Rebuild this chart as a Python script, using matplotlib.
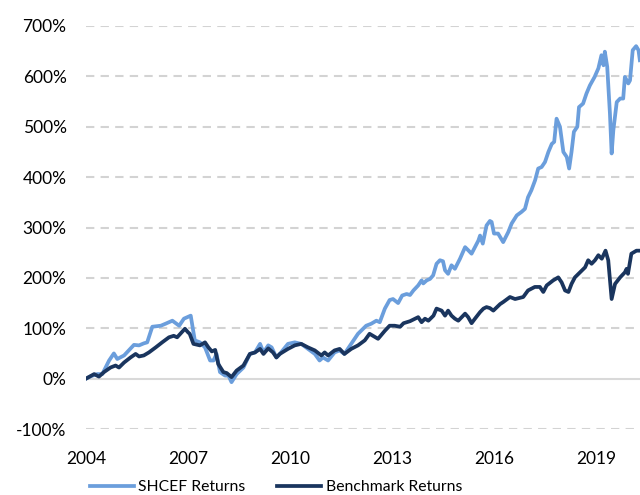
import matplotlib.pyplot as plt
from matplotlib.ticker import FuncFormatter

plt.rcParams['font.family'] = ['Lato', 'DejaVu Sans']

# values (cumulative return, %)
shcef_years = [2004.0, 2004.15, 2004.33, 2004.48, 2004.68, 2004.82, 2004.92, 2005.12, 2005.41, 2005.56,
               2005.7, 2005.8, 2005.95, 2006.2, 2006.34, 2006.54, 2006.74, 2006.88, 2007.08, 2007.2,
               2007.35, 2007.5, 2007.65, 2007.75, 2007.84, 2007.94, 2008.09, 2008.19, 2008.28, 2008.43,
               2008.63, 2008.82, 2008.97, 2009.12, 2009.22, 2009.36, 2009.46, 2009.6, 2009.7, 2009.94,
               2010.14, 2010.33, 2010.53, 2010.73, 2010.87, 2010.97, 2011.12, 2011.31, 2011.46, 2011.6,
               2011.8, 2012.0, 2012.24, 2012.39, 2012.54, 2012.64, 2012.79, 2012.93, 2013.03, 2013.18,
               2013.3, 2013.43, 2013.53, 2013.63, 2013.77, 2013.87, 2013.92, 2014.02, 2014.12, 2014.21,
               2014.31, 2014.41, 2014.5, 2014.56, 2014.65, 2014.75, 2014.85, 2015.0, 2015.15, 2015.24,
               2015.34, 2015.44, 2015.54, 2015.59, 2015.67, 2015.78, 2015.88, 2015.93, 2016.0, 2016.12,
               2016.27, 2016.42, 2016.52, 2016.67, 2016.81, 2016.91, 2017.0, 2017.1, 2017.21, 2017.3,
               2017.4, 2017.5, 2017.6, 2017.7, 2017.77, 2017.84, 2017.94, 2018.04, 2018.14, 2018.21,
               2018.28, 2018.35, 2018.45, 2018.5, 2018.62, 2018.72, 2018.82, 2018.96, 2019.07, 2019.16,
               2019.22, 2019.26, 2019.33, 2019.41, 2019.46, 2019.51, 2019.61, 2019.71, 2019.8, 2019.85,
               2019.95, 2020.0, 2020.08, 2020.18, 2020.25, 2020.29]
shcef_vals = [0, 5, 9, 9, 36, 50, 39, 46, 67, 66,
              70, 72, 103, 105, 109, 115, 105, 119, 125, 76,
              72, 62, 36, 36, 49, 13, 6, 6, -7, 9,
              22, 49, 52, 69, 52, 66, 62, 42, 49, 69,
              72, 69, 59, 49, 36, 42, 36, 52, 56, 49,
              69, 89, 105, 109, 115, 112, 139, 156, 158, 150,
              165, 168, 166, 175, 185, 195, 189, 195, 198, 205,
              228, 235, 233, 215, 208, 225, 218, 238, 261, 255,
              248, 261, 274, 284, 268, 304, 313, 311, 288, 288,
              271, 291, 308, 324, 331, 337, 360, 374, 394, 417,
              420, 430, 450, 466, 470, 516, 500, 450, 440, 417,
              450, 490, 500, 539, 546, 566, 582, 599, 616, 642,
              622, 649, 619, 526, 447, 493, 549, 556, 556, 599,
              586, 592, 652, 660, 652, 632]

bench_years = [2004.0, 2004.24, 2004.38, 2004.53, 2004.72, 2004.87, 2004.97, 2005.12, 2005.31, 2005.46,
               2005.56, 2005.7, 2005.85, 2006.05, 2006.24, 2006.44, 2006.58, 2006.68, 2006.91, 2007.0,
               2007.05, 2007.16, 2007.35, 2007.5, 2007.6, 2007.7, 2007.8, 2007.89, 2008.04, 2008.14,
               2008.28, 2008.43, 2008.63, 2008.82, 2008.97, 2009.12, 2009.22, 2009.36, 2009.5, 2009.6,
               2009.7, 2009.94, 2010.14, 2010.33, 2010.53, 2010.73, 2010.92, 2011.02, 2011.12, 2011.31,
               2011.46, 2011.6, 2011.8, 2012.0, 2012.2, 2012.34, 2012.44, 2012.59, 2012.79, 2012.93,
               2013.08, 2013.24, 2013.34, 2013.53, 2013.68, 2013.77, 2013.87, 2013.97, 2014.07, 2014.22,
               2014.31, 2014.46, 2014.56, 2014.65, 2014.75, 2014.85, 2014.95, 2015.05, 2015.15, 2015.24,
               2015.34, 2015.44, 2015.59, 2015.69, 2015.78, 2015.88, 2015.98, 2016.18, 2016.27, 2016.47,
               2016.62, 2016.86, 2017.0, 2017.2, 2017.35, 2017.45, 2017.55, 2017.74, 2017.89, 2017.99,
               2018.09, 2018.19, 2018.28, 2018.38, 2018.53, 2018.68, 2018.77, 2018.87, 2018.97, 2019.07,
               2019.17, 2019.28, 2019.36, 2019.46, 2019.56, 2019.71, 2019.85, 2019.9, 2019.94, 2020.04,
               2020.19, 2020.29]
bench_vals = [0, 9, 4, 13, 22, 26, 22, 32, 42, 49,
              44, 46, 52, 62, 72, 82, 85, 82, 99, 92,
              89, 69, 66, 72, 62, 54, 57, 29, 13, 11,
              3, 16, 26, 49, 52, 59, 49, 60, 52, 42,
              49, 59, 66, 69, 62, 56, 46, 52, 46, 56,
              59, 49, 59, 66, 76, 89, 85, 79, 95, 105,
              105, 103, 110, 114, 119, 122, 112, 119, 115, 125,
              139, 135, 125, 135, 125, 119, 115, 122, 129, 122,
              110, 119, 132, 139, 142, 140, 135, 148, 152, 162,
              158, 162, 175, 182, 182, 172, 185, 195, 201, 191,
              175, 172, 188, 201, 211, 221, 235, 228, 235, 245,
              238, 254, 235, 158, 188, 201, 211, 218, 208, 248,
              254, 254]

year_ticks = [2004, 2007, 2010, 2013, 2016, 2019]
pct_ticks = [-100, 0, 100, 200, 300, 400, 500, 600, 700]

fig = plt.figure(figsize=(6.4, 4.95), dpi=100)
ax = fig.add_axes([86 / 640, 1 - 429 / 495, 1 - 86 / 640, (429 - 26) / 495])

ax.plot(shcef_years, shcef_vals, color='#6B9EDC', lw=2.7, label='SHCEF Returns', zorder=3)
ax.plot(bench_years, bench_vals, color='#1A355E', lw=2.7, label='Benchmark Returns', zorder=4)

ax.set_xlim(2004, 2004 + (640 - 86) / 34)
ax.set_ylim(-100, 700)
ax.set_xticks(year_ticks)
ax.set_yticks(pct_ticks)
ax.yaxis.set_major_formatter(FuncFormatter(lambda v, p: f'{v:.0f}%'))

# dashed gridlines, solid zero line
for v in pct_ticks:
    if v == 0:
        ax.axhline(v, color='#D9D9D9', lw=1.5, zorder=1)
    else:
        ax.axhline(v, color='#D3D3D3', lw=1.5, ls=(0, (4, 3)), zorder=1)

for s in ax.spines.values():
    s.set_visible(False)
ax.tick_params(length=0, labelsize=12.5, colors='black')
ax.tick_params(axis='y', pad=14)
ax.tick_params(axis='x', pad=16)

fig.legend(loc='center', bbox_to_anchor=(276 / 640, 1 - 487 / 495), ncol=2, frameon=False,
           fontsize=11.3, handlelength=2.8, handletextpad=0.3, columnspacing=2.0)

plt.savefig('out.png', dpi=100)
